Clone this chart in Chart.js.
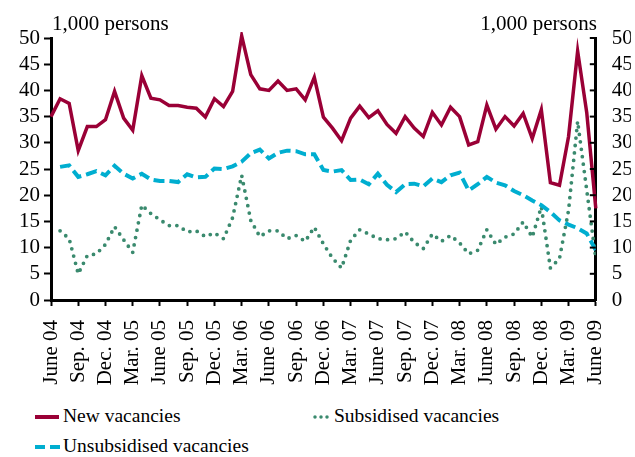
<!DOCTYPE html>
<html>
<head>
<meta charset="utf-8">
<script src="https://cdn.jsdelivr.net/npm/chart.js@4/dist/chart.umd.min.js"></script>
<style>
  html, body { margin: 0; padding: 0; background: #fff; }
  body { width: 635px; height: 457px; position: relative; overflow: hidden; font-family: "Liberation Serif", serif; }
  #wrap { position: absolute; left: 0; top: 0; width: 635px; height: 400px; }
  .leg { position: absolute; font-size: 19.5px; color: #000; line-height: 20px; white-space: nowrap; }
  .leg svg { position: absolute; top: 0; }
</style>
</head>
<body>
<div id="wrap"><canvas id="chart" width="635" height="400"></canvas></div>

<div class="leg" style="left:35px; top:406px;"><svg width="26" height="20"><line x1="0" y1="11" x2="24" y2="11" stroke="#9a0036" stroke-width="4"/></svg><span style="margin-left:28px">New vacancies</span></div>
<div class="leg" style="left:313px; top:406px;"><svg width="22" height="20"><line x1="2" y1="11" x2="20" y2="11" stroke="#3a8a6e" stroke-width="3.5" stroke-linecap="round" stroke-dasharray="0 6"/></svg><span style="margin-left:21px">Subsidised vacancies</span></div>
<div class="leg" style="left:35px; top:436px;"><svg width="26" height="20"><line x1="0" y1="11" x2="25" y2="11" stroke="#00aed0" stroke-width="4" stroke-dasharray="10 5"/></svg><span style="margin-left:28px">Unsubsidised vacancies</span></div>

<script>
const $ = id => document.getElementById(id);

// x tick labels, one every 3 months (June 04 .. June 09)
const tickLabels = ['June 04','Sep. 04','Dec. 04','Mar. 05','June 05','Sep. 05','Dec. 05',
  'Mar. 06','June 06','Sep. 06','Dec. 06','Mar. 07','June 07','Sep. 07','Dec. 07',
  'Mar. 08','June 08','Sep. 08','Dec. 08','Mar. 09','June 09'];

// monthly values, 1,000 persons (index 0 = June 04)
const newVacancies = [
  35.0, 38.4, 37.5, 28.5, 33.1, 33.1, 34.4, 39.8, 34.7, 32.4,
  42.8, 38.5, 38.2, 37.1, 37.1, 36.8, 36.6, 34.9, 38.4, 36.9,
  39.8, 50.4, 43.0, 40.3, 40.0, 41.8, 40.0, 40.3, 38.2, 42.5,
  34.9, 32.8, 30.4, 34.7, 37.0, 34.8, 36.1, 33.5, 31.8, 35.0,
  32.8, 31.2, 35.8, 33.4, 36.8, 35.0, 29.6, 30.2, 37.2, 32.6,
  35.0, 33.2, 35.6, 30.8, 36.3, 22.4, 21.9, 31.2, 47.5, 35.8,
  17.5
];
const unsubsidised = [
  null, 25.4, 25.7, 23.5, 24.0, 24.6, 23.8, 25.6, 24.1, 23.2,
  24.1, 23.0, 22.7, 22.7, 22.5, 24.0, 23.4, 23.5, 25.1, 25.0,
  25.5, 26.4, 28.0, 28.7, 27.0, 28.1, 28.5, 28.4, 27.8, 27.8,
  24.8, 24.5, 24.8, 22.9, 23.0, 22.1, 24.1, 22.0, 20.6, 22.1,
  22.2, 21.7, 23.2, 22.5, 23.8, 24.3, 20.9, 22.1, 23.5, 22.4,
  21.9, 20.8, 20.0, 19.0, 18.1, 16.8, 15.2, 14.4, 13.7, 12.7,
  9.5
];
const subsidised = [
  null, 13.2, 11.7, 5.0, 8.5, 8.8, 10.6, 14.0, 11.5, 9.1,
  18.1, 16.5, 15.3, 14.2, 14.2, 13.0, 13.2, 12.1, 12.8, 11.7,
  15.7, 23.8, 15.2, 12.1, 13.2, 13.2, 11.7, 12.3, 11.2, 13.9,
  10.7, 8.0, 6.1, 11.4, 13.4, 12.6, 11.7, 11.5, 11.7, 13.0,
  11.0, 9.8, 12.6, 11.2, 12.3, 10.9, 8.8, 9.5, 13.4, 10.6,
  12.0, 12.6, 14.9, 12.0, 17.8, 6.1, 7.9, 17.1, 34.1, 21.0,
  7.9
];

const pts = arr => arr.map((v, i) => ({ x: i, y: v }));
const FONT = "'Liberation Serif', serif";

// unit labels + inward tick marks on the right axis
const extras = {
  id: 'extras',
  afterDraw(chart) {
    const { ctx, chartArea: a, scales } = chart;
    ctx.save();
    ctx.fillStyle = '#000';
    ctx.font = `21px ${FONT}`;
    ctx.textBaseline = 'alphabetic';
    ctx.textAlign = 'left';
    ctx.fillText('1,000 persons', a.left + 1, 30);
    ctx.textAlign = 'right';
    ctx.fillText('1,000 persons', a.right + 1, 30);

    ctx.strokeStyle = '#000';
    ctx.lineWidth = 2;
    scales.y2.ticks.forEach(t => {
      const y = scales.y2.getPixelForValue(t.value);
      ctx.beginPath();
      ctx.moveTo(a.right, y);
      ctx.lineTo(a.right - 6, y);
      ctx.stroke();
    });
    ctx.restore();
  }
};

const yTicks = { color: '#000', font: { family: FONT, size: 21 }, stepSize: 5, autoSkip: false, padding: 4 };

new Chart($('chart').getContext('2d'), {
  type: 'line',
  data: {
    datasets: [
      { label: 'New vacancies', data: pts(newVacancies), borderColor: '#9a0036', borderWidth: 3.5,
        pointRadius: 0, tension: 0, borderJoinStyle: 'miter', clip: 6 },
      { label: 'Unsubsidised vacancies', data: pts(unsubsidised), borderColor: '#00aed0', borderWidth: 4,
        borderDash: [11, 5], pointRadius: 0, tension: 0 },
      { label: 'Subsidised vacancies', data: pts(subsidised), borderColor: '#3a8a6e', borderWidth: 3.8,
        borderDash: [0, 7.5], borderCapStyle: 'round', pointRadius: 0, tension: 0 }
    ]
  },
  options: {
    responsive: false,
    animation: false,
    layout: { padding: { top: 38, left: 0, right: 0, bottom: 0 } },
    plugins: { legend: { display: false }, tooltip: { enabled: false } },
    scales: {
      x: {
        type: 'linear', min: 0, max: 60,
        afterFit: s => { s.height = 100; },
        grid: { drawOnChartArea: false, tickLength: 6, tickWidth: 2, color: '#000' },
        border: { color: '#000', width: 3 },
        ticks: {
          stepSize: 3, autoSkip: false, minRotation: 90, maxRotation: 90, padding: 14,
          color: '#000', font: { family: FONT, size: 21 },
          callback: v => tickLabels[v / 3]
        }
      },
      y: {
        position: 'left', min: 0, max: 50,
        afterFit: s => { s.width = 51; },
        grid: { drawOnChartArea: false, tickLength: 7, tickWidth: 2, color: '#000' },
        border: { color: '#000', width: 3 },
        ticks: yTicks
      },
      y2: {
        position: 'right', min: 0, max: 50,
        afterFit: s => { s.width = 35; },
        grid: { display: false },
        border: { display: true, color: '#000', width: 3 },
        ticks: { ...yTicks, padding: 8 }
      }
    }
  },
  plugins: [extras]
});
</script>
</body>
</html>
